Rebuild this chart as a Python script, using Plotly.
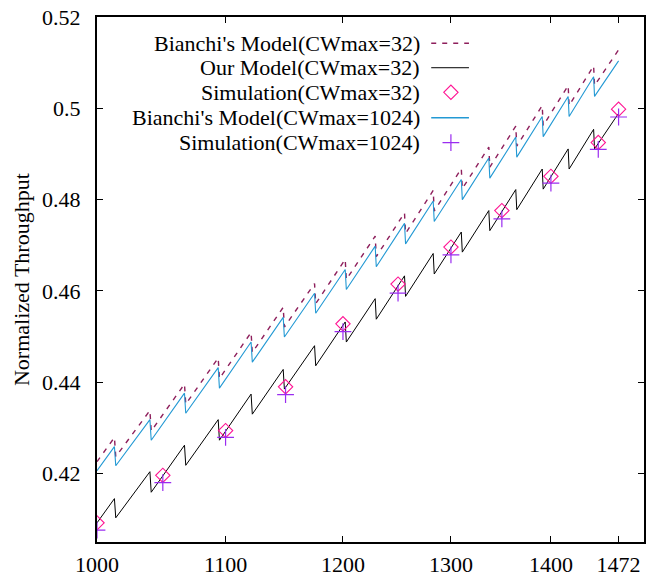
import plotly.graph_objects as go

# ---------------- data ----------------
x_model = [1000, 1013, 1014, 1040, 1041, 1067, 1068, 1094, 1095, 1121, 1122,
           1148, 1149, 1175, 1176, 1202, 1203, 1229, 1230, 1256, 1257, 1283,
           1284, 1310, 1311, 1337, 1338, 1364, 1365, 1391, 1392, 1418, 1419,
           1445, 1446, 1472]

y_bianchi32 = [0.4226, 0.4279, 0.4237, 0.4338, 0.4293, 0.4396, 0.4352, 0.4453,
               0.4408, 0.4509, 0.4465, 0.4564, 0.4521, 0.4616, 0.4572, 0.4669,
               0.4625, 0.4720, 0.4675, 0.4771, 0.4726, 0.4820, 0.4775, 0.4868,
               0.4824, 0.4915, 0.4871, 0.4961, 0.4917, 0.5006, 0.4962, 0.5050,
               0.5006, 0.5093, 0.5050, 0.5128]

y_our32 = [0.4092, 0.4145, 0.4103, 0.4204, 0.4159, 0.4262, 0.4218, 0.4318,
           0.4273, 0.4374, 0.4330, 0.4428, 0.4385, 0.4480, 0.4436, 0.4532,
           0.4488, 0.4583, 0.4538, 0.4633, 0.4588, 0.4682, 0.4637, 0.4729,
           0.4685, 0.4776, 0.4732, 0.4822, 0.4778, 0.4867, 0.4823, 0.4911,
           0.4867, 0.4954, 0.4911, 0.4989]

y_bianchi1024 = [0.4206, 0.4259, 0.4217, 0.4318, 0.4273, 0.4376, 0.4332, 0.4432,
                 0.4387, 0.4488, 0.4444, 0.4542, 0.4499, 0.4595, 0.4551, 0.4647,
                 0.4603, 0.4698, 0.4653, 0.4748, 0.4703, 0.4797, 0.4752, 0.4844,
                 0.4800, 0.4891, 0.4847, 0.4937, 0.4893, 0.4982, 0.4938, 0.5026,
                 0.4982, 0.5069, 0.5026, 0.5104]

x_sim = [1000, 1050, 1100, 1150, 1200, 1250, 1300, 1350, 1400, 1450, 1472]
y_sim32 = [0.4092, 0.4196, 0.4294, 0.4390, 0.4528, 0.4615, 0.4696, 0.4776,
           0.4851, 0.4925, 0.4998]
y_sim1024 = [0.4076, 0.4180, 0.4279, 0.4373, 0.4511, 0.4595, 0.4679, 0.4758,
             0.4836, 0.4910, 0.4981]

x_ticks = [1000, 1100, 1200, 1300, 1400, 1472]
x_ticktext = ["1000", "1100", "1200", "1300", "1400", "1472"]
y_ticks = [0.42, 0.44, 0.46, 0.48, 0.50, 0.52]
y_ticktext = ["0.42", "0.44", "0.46", "0.48", "0.5", "0.52"]

legend_names = ["Bianchi's Model(CWmax=32)", "Our Model(CWmax=32)",
                "Simulation(CWmax=32)", "Bianchi's Model(CWmax=1024)",
                "Simulation(CWmax=1024)"]

# ---------------- styles ----------------
FONT = "Liberation Serif, Times New Roman, serif"
FS = 22
C_B32 = "#8e1f5c"
C_OUR = "#000000"
C_SIM32 = "#ff1493"
C_B1024 = "#2399d4"
C_SIM1024 = "#9a2cf0"
DASH = "5px,6px"

fig = go.Figure()

fig.add_trace(go.Scatter(x=x_model, y=y_bianchi32, mode="lines",
                         line=dict(color=C_B32, width=1.4, dash=DASH)))
fig.add_trace(go.Scatter(x=x_model, y=y_our32, mode="lines",
                         line=dict(color=C_OUR, width=1)))
fig.add_trace(go.Scatter(x=x_sim, y=y_sim32, mode="markers",
                         marker=dict(symbol="diamond-open", size=11, color=C_SIM32,
                                     line=dict(width=1.1, color=C_SIM32))))
fig.add_trace(go.Scatter(x=x_model, y=y_bianchi1024, mode="lines",
                         line=dict(color=C_B1024, width=1.1)))
fig.add_trace(go.Scatter(x=x_sim, y=y_sim1024, mode="markers",
                         marker=dict(symbol="cross-thin-open", size=12, color=C_SIM1024,
                                     line=dict(width=1.2, color=C_SIM1024))))

# ---------------- manual gnuplot-style key (text left, sample right) ----------------
row_y = [0.9499, 0.9034, 0.8566, 0.8082, 0.7606]
text_x = 0.594
samp_x0, samp_x1, samp_xm = 0.611, 0.680, 0.647

for name, yy in zip(legend_names, row_y):
    fig.add_annotation(x=text_x, y=yy, xref="paper", yref="paper", text=name,
                       showarrow=False, xanchor="right", yanchor="middle",
                       font=dict(family=FONT, size=FS, color="black"))

fig.add_trace(go.Scatter(x=[samp_x0, samp_x1], y=[row_y[0]] * 2, mode="lines",
                         xaxis="x2", yaxis="y2",
                         line=dict(color=C_B32, width=1.4, dash=DASH)))
fig.add_trace(go.Scatter(x=[samp_x0, samp_x1], y=[row_y[1]] * 2, mode="lines",
                         xaxis="x2", yaxis="y2", line=dict(color=C_OUR, width=1)))
fig.add_trace(go.Scatter(x=[samp_xm], y=[row_y[2]], mode="markers",
                         xaxis="x2", yaxis="y2",
                         marker=dict(symbol="diamond-open", size=11, color=C_SIM32,
                                     line=dict(width=1.1, color=C_SIM32))))
fig.add_trace(go.Scatter(x=[samp_x0, samp_x1], y=[row_y[3]] * 2, mode="lines",
                         xaxis="x2", yaxis="y2", line=dict(color=C_B1024, width=1.4)))
fig.add_trace(go.Scatter(x=[samp_xm], y=[row_y[4]], mode="markers",
                         xaxis="x2", yaxis="y2",
                         marker=dict(symbol="cross-thin-open", size=12, color=C_SIM1024,
                                     line=dict(width=1.2, color=C_SIM1024))))

# y-axis title
fig.add_annotation(x=-0.138, y=0.5, xref="paper", yref="paper",
                   text="Normalized Throughput", textangle=-90, showarrow=False,
                   xanchor="center", yanchor="middle",
                   font=dict(family=FONT, size=FS, color="black"))

axis_common = dict(showgrid=False, zeroline=False, showline=True, linecolor="black",
                   linewidth=2, mirror="ticks", ticks="inside", ticklen=6,
                   tickcolor="black", tickwidth=1, automargin=False,
                   tickfont=dict(family=FONT, size=FS, color="black"))

fig.update_layout(
    width=656, height=583,
    margin=dict(l=97, r=12, t=17, b=41),
    paper_bgcolor="white", plot_bgcolor="white",
    showlegend=False,
    font=dict(family=FONT, size=FS, color="black"),
    xaxis=dict(type="log", range=[3.0, 3.176091], tickvals=x_ticks,
               ticktext=x_ticktext, ticklabelstandoff=2, **axis_common),
    yaxis=dict(range=[0.405, 0.52], tickvals=y_ticks, ticktext=y_ticktext,
               ticklabelstandoff=10, **axis_common),
    xaxis2=dict(overlaying="x", range=[0, 1], visible=False, automargin=False),
    yaxis2=dict(overlaying="y", range=[0, 1], visible=False, automargin=False),
)

fig.write_html("out.html",
               config={"displayModeBar": False},
               post_script="document.body.style.margin='0';"
                           "document.body.style.overflow='hidden';")
